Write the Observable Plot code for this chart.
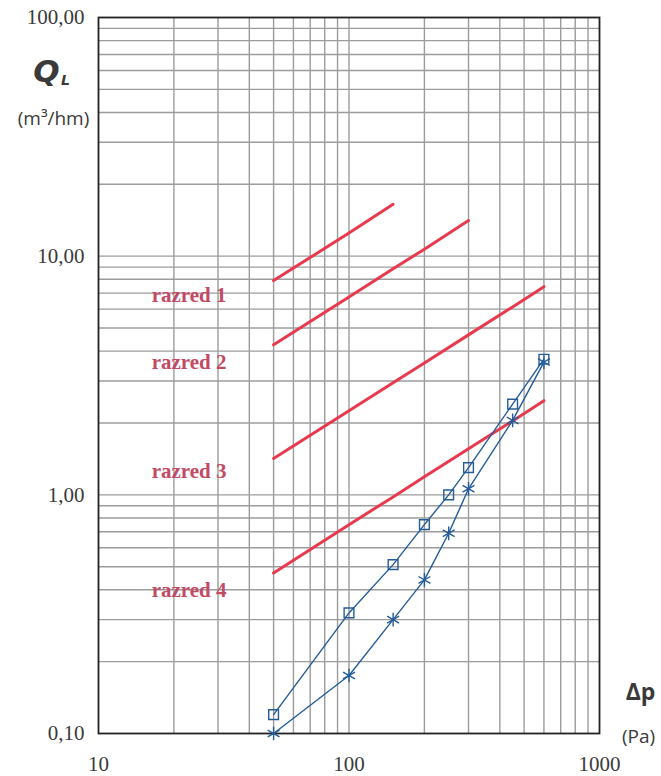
<!DOCTYPE html>
<html>
<head>
<meta charset="utf-8">
<script src="https://cdn.jsdelivr.net/npm/d3@7"></script>
<script src="https://cdn.jsdelivr.net/npm/@observablehq/plot@0.6"></script>
<style>
  html, body { margin: 0; padding: 0; background: #fff; }
  #chart { width: 661px; height: 776px; }
</style>
</head>
<body>
<div id="chart"></div>
<script>
// pressure differences (Pa) at which the samples were measured
const dp = [50, 100, 150, 200, 250, 300, 450, 600];
// measured series (m3/hm)
const seriesSquare = [0.12, 0.32, 0.51, 0.75, 1.00, 1.30, 2.40, 3.70];
const seriesStar   = [0.10, 0.175, 0.30, 0.44, 0.69, 1.06, 2.05, 3.60];

// class limit lines (razred 1..4): pressure points and flow values
const classNames = ["razred 1", "razred 2", "razred 3", "razred 4"];
const classDp = [
  [50, 100, 150],
  [50, 100, 150, 200, 300],
  [50, 100, 150, 200, 300, 450, 600],
  [50, 100, 150, 200, 300, 450, 600]
];
const classQ = [
  [7.9, 12.5, 16.5],
  [4.25, 6.75, 8.85, 10.7, 14.1],
  [1.42, 2.25, 2.95, 3.57, 4.68, 6.13, 7.45],
  [0.47, 0.75, 0.98, 1.19, 1.56, 2.04, 2.48]
];
// label anchor values for the class names (data units)
const labelDp = [23, 23, 23, 23];
const labelQ = [6.85, 3.6, 1.26, 0.40];

// axis tick labels
const xTicks = [10, 100, 1000];
const yTicks = [0.1, 1, 10, 100];
// log-paper grid lines
const xGrid = [20,30,40,50,60,70,80,90,100,200,300,400,500,600,700,800,900];
const yGrid = [0.2,0.3,0.4,0.5,0.6,0.7,0.8,0.9,1,2,3,4,5,6,7,8,9,10,20,30,40,50,60,70,80,90];

const squareData = dp.map((d, i) => ({dp: d, q: seriesSquare[i]}));
const starData = dp.map((d, i) => ({dp: d, q: seriesStar[i]}));
const classData = classNames.flatMap((name, k) =>
  classDp[k].map((d, i) => ({name, dp: d, q: classQ[k][i]})));
const labelData = classNames.map((name, k) => ({name, dp: labelDp[k], q: labelQ[k]}));

const blue = "#245c98";
const red = "#e8394e";
const labelRed = "#c24a65";
const ink = "#3a3a3a";

const title = (txt, anchor, dx, dy, opts) => Plot.text([txt], {
  frameAnchor: anchor, dx, dy, textAnchor: "middle", lineAnchor: "middle",
  fill: ink, ...opts
});

const chart = Plot.plot({
  width: 661,
  height: 776,
  marginLeft: 98,
  marginRight: 62,
  marginTop: 17,
  marginBottom: 43,
  style: {background: "#fff", fontFamily: "Liberation Serif, serif"},
  x: {type: "log", domain: [10, 1000], range: [98, 599]},
  y: {type: "log", domain: [0.1, 100], range: [733, 17]},
  marks: [
    Plot.ruleX(xGrid, {stroke: "#9c9c9c", strokeWidth: 1.4}),
    Plot.ruleY(yGrid, {stroke: "#9c9c9c", strokeWidth: 1.4}),
    Plot.axisX(xTicks, {tickSize: 0, tickPadding: 23, fontSize: 21, fill: ink,
      fontFamily: "Liberation Serif, serif",
      tickFormat: d => String(d), label: null}),
    Plot.axisY(yTicks, {tickSize: 0, tickPadding: 14, fontSize: 21, fill: ink,
      fontFamily: "Liberation Serif, serif",
      tickFormat: d => d.toFixed(2).replace(".", ","), label: null}),
    Plot.frame({stroke: "#222", strokeWidth: 1.8}),
    Plot.line(classData, {x: "dp", y: "q", z: "name", stroke: red, strokeWidth: 3}),
    Plot.text(labelData, {x: "dp", y: "q", text: "name", fill: labelRed,
      fontWeight: "bold", fontSize: 21, fontFamily: "Liberation Serif, serif"}),
    Plot.line(squareData, {x: "dp", y: "q", stroke: blue, strokeWidth: 1.4}),
    Plot.line(starData, {x: "dp", y: "q", stroke: blue, strokeWidth: 1.4}),
    Plot.dot(squareData, {x: "dp", y: "q", symbol: "square", r: 5.5, stroke: blue,
      strokeWidth: 1.4, fill: "none"}),
    Plot.dot(starData, {x: "dp", y: "q", symbol: "asterisk", r: 6.5, stroke: blue,
      strokeWidth: 1.4}),
    // axis titles
    title("Q", "top-left", -52, 55, {fontSize: 31, fontWeight: "bold", fontStyle: "italic",
      fontFamily: "DejaVu Sans, sans-serif"}),
    title("L", "top-left", -33, 63, {fontSize: 14, fontWeight: "bold", fontStyle: "italic",
      fontFamily: "DejaVu Sans, sans-serif"}),
    title("(m³/hm)", "top-left", -45, 101, {fontSize: 19, fontFamily: "Open Sans, sans-serif"}),
    title("Δp", "bottom-right", 41, -41, {fontSize: 23, fontWeight: "bold",
      fontFamily: "Open Sans, sans-serif"}),
    title("(Pa)", "bottom-right", 39, 3, {fontSize: 19, fontFamily: "Open Sans, sans-serif"})
  ]
});
document.getElementById("chart").appendChild(chart);
</script>
</body>
</html>
